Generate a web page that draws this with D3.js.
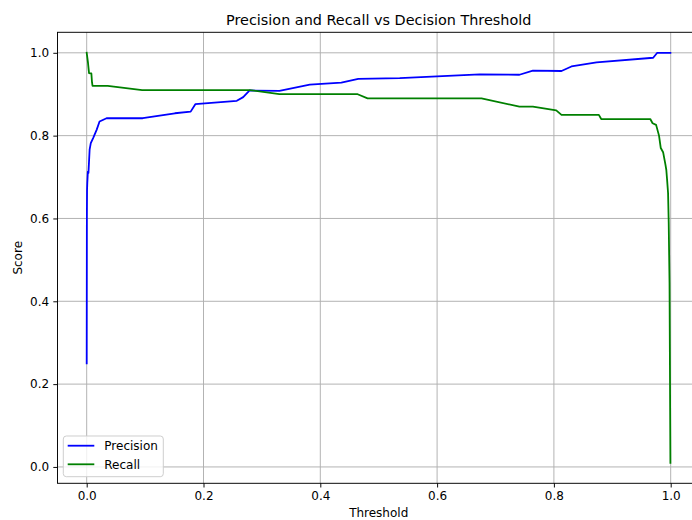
<!DOCTYPE html>
<html><head><meta charset="utf-8">
<script src="https://cdn.jsdelivr.net/npm/d3@7"></script>
<style>body{margin:0;background:#fff}svg{display:block}text{font-family:"DejaVu Sans",sans-serif;fill:#000}</style>
</head><body>
<script>
const precisionThresholds = [0, 0.0003, 0.0006, 0.001, 0.002, 0.003, 0.005, 0.007, 0.011, 0.017, 0.022, 0.034, 0.096, 0.151, 0.178, 0.186, 0.257, 0.268, 0.279, 0.33, 0.382, 0.436, 0.465, 0.536, 0.673, 0.741, 0.764, 0.813, 0.83, 0.873, 0.97, 0.977, 0.9995];
const precisionValues = [0.25, 0.6, 0.669, 0.685, 0.713, 0.71, 0.766, 0.782, 0.794, 0.814, 0.834, 0.842, 0.842, 0.854, 0.858, 0.876, 0.884, 0.893, 0.909, 0.908, 0.923, 0.928, 0.937, 0.939, 0.948, 0.947, 0.957, 0.956, 0.967, 0.977, 0.988, 1.0, 1.0];
const recallThresholds = [0, 0.0022, 0.004, 0.008, 0.009, 0.01, 0.036, 0.095, 0.279, 0.33, 0.464, 0.481, 0.676, 0.741, 0.764, 0.804, 0.813, 0.877, 0.881, 0.965, 0.969, 0.975, 0.98, 0.983, 0.987, 0.991, 0.9925, 0.994, 0.9955, 0.9966, 0.998, 0.9995];
const recallValues = [1.0, 0.976, 0.951, 0.95, 0.93, 0.92, 0.92, 0.91, 0.91, 0.90, 0.90, 0.89, 0.89, 0.87, 0.87, 0.861, 0.85, 0.85, 0.84, 0.84, 0.83, 0.826, 0.80, 0.77, 0.76, 0.73, 0.717, 0.69, 0.661, 0.589, 0.444, 0.01];
const xTicks = [0, 0.2, 0.4, 0.6, 0.8, 1.0];
const yTicks = [0, 0.2, 0.4, 0.6, 0.8, 1.0];
const seriesNames = ["Precision", "Recall"];
const seriesColors = ["#0000ff", "#008000"];

const W = 692, H = 520;
const L = 57.5, R = 699.9, T = 32.3, B = 483.3;
const svg = d3.select("body").append("svg").attr("width", W).attr("height", H);
const x = d3.scaleLinear().domain([-0.05, 1.05]).range([L, R]);
const y = d3.scaleLinear().domain([-0.0395, 1.0495]).range([B, T]);

svg.append("defs").append("clipPath").attr("id", "clip")
  .append("rect").attr("x", L).attr("y", T).attr("width", R - L).attr("height", B - T);

// grid
const g = svg.append("g");
g.selectAll(".gx").data(xTicks).enter().append("line")
  .attr("x1", d => x(d)).attr("x2", d => x(d)).attr("y1", T).attr("y2", B)
  .attr("stroke", "#b0b0b0").attr("stroke-width", 0.96);
g.selectAll(".gy").data(yTicks).enter().append("line")
  .attr("y1", d => y(d)).attr("y2", d => y(d)).attr("x1", L).attr("x2", R)
  .attr("stroke", "#b0b0b0").attr("stroke-width", 0.96);

// lines
const series = [
  precisionThresholds.map((t, i) => [t, precisionValues[i]]),
  recallThresholds.map((t, i) => [t, recallValues[i]])
];
const line = d3.line().x(d => x(d[0])).y(d => y(d[1]));
const lg = svg.append("g").attr("clip-path", "url(#clip)");
series.forEach((s, i) => {
  lg.append("path").attr("d", line(s)).attr("fill", "none")
    .attr("stroke", seriesColors[i]).attr("stroke-width", 1.8)
    .attr("stroke-linejoin", "round").attr("stroke-linecap", "square");
});

// axes
const xAxis = d3.axisBottom(x).tickValues(xTicks).tickFormat(d3.format(".1f")).tickSize(4.2).tickPadding(4.2);
const yAxis = d3.axisLeft(y).tickValues(yTicks).tickFormat(d3.format(".1f")).tickSize(4.2).tickPadding(4.2);
const ax = svg.append("g").attr("transform", `translate(0,${B})`).call(xAxis);
const ay = svg.append("g").attr("transform", `translate(${L},0)`).call(yAxis);
[ax, ay].forEach(a => {
  a.select(".domain").remove();
  a.selectAll(".tick line").attr("stroke", "#000").attr("stroke-width", 0.96);
  a.selectAll(".tick text").attr("font-size", 12).attr("font-family", "DejaVu Sans").attr("fill", "#000");
});

// frame
svg.append("rect").attr("x", L).attr("y", T).attr("width", R - L).attr("height", B - T)
  .attr("fill", "none").attr("stroke", "#000").attr("stroke-width", 0.96);

// labels
const cx = (L + R) / 2;
svg.append("text").attr("x", cx).attr("y", 25).attr("text-anchor", "middle").attr("font-size", 14.4)
  .text("Precision and Recall vs Decision Threshold");
svg.append("text").attr("x", cx).attr("y", 517).attr("text-anchor", "middle").attr("font-size", 12)
  .text("Threshold");
svg.append("text").attr("transform", `translate(22,${(T + B) / 2}) rotate(-90)`).attr("text-anchor", "middle")
  .attr("font-size", 12).text("Score");

// legend
const leg = svg.append("g");
leg.append("rect").attr("x", 63.3).attr("y", 436).attr("width", 100).attr("height", 40.7)
  .attr("rx", 3).attr("fill", "#fff").attr("fill-opacity", 0.8).attr("stroke", "#cccccc").attr("stroke-width", 0.96);
const ly = [445.7, 464.3];
seriesNames.forEach((n, i) => {
  leg.append("line").attr("x1", 67.7).attr("x2", 94.3).attr("y1", ly[i]).attr("y2", ly[i])
    .attr("stroke", seriesColors[i]).attr("stroke-width", 1.8);
  leg.append("text").attr("x", 104.3).attr("y", ly[i]).attr("dy", "0.36em").attr("font-size", 12).text(n);
});
</script>
</body></html>
